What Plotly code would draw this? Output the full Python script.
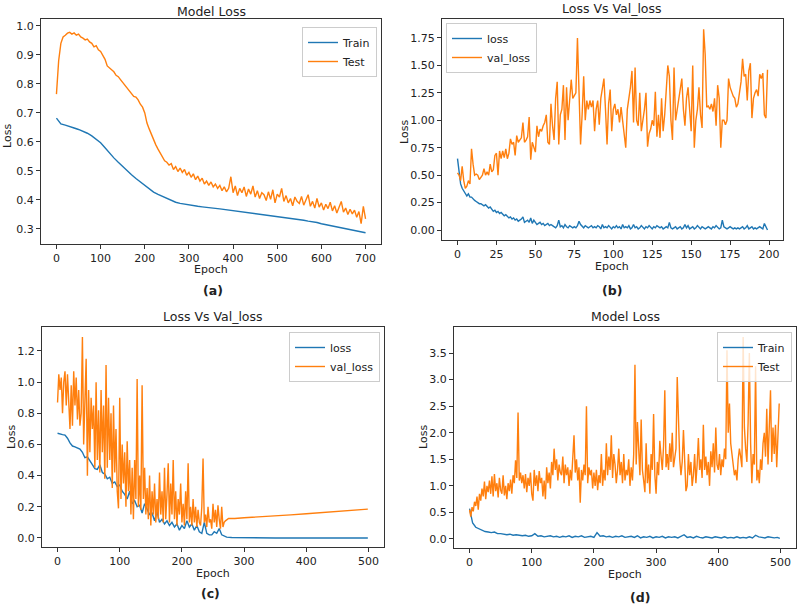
import plotly.graph_objs as go

W, H = 800, 607
BLUE = '#1f77b4'
ORANGE = '#ff7f0e'
FONT = 'DejaVu Sans'

# ---- (a) Model Loss ----
a_train_epoch = list(range(0, 701, 10))
a_train = [0.682, 0.662, 0.658, 0.654, 0.648, 0.643, 0.637, 0.630, 0.621, 0.610,
           0.597, 0.580, 0.562, 0.545, 0.530, 0.515, 0.500, 0.487, 0.474, 0.462,
           0.452, 0.440, 0.427, 0.419, 0.412, 0.405, 0.398, 0.392, 0.388, 0.385,
           0.383, 0.380, 0.378, 0.376, 0.375, 0.373, 0.371, 0.369, 0.367, 0.366,
           0.364, 0.362, 0.360, 0.358, 0.356, 0.354, 0.352, 0.350, 0.348, 0.346,
           0.342, 0.340, 0.338, 0.336, 0.334, 0.332, 0.330, 0.327, 0.325, 0.322,
           0.318, 0.315, 0.313, 0.310, 0.307, 0.304, 0.301, 0.298, 0.295, 0.291,
           0.287]
a_test_epoch = list(range(0, 701, 5))
a_test = [0.765, 0.880, 0.940, 0.962, 0.968, 0.975, 0.978, 0.972, 0.976, 0.968,
          0.972, 0.962, 0.958, 0.952, 0.955, 0.945, 0.940, 0.928, 0.932, 0.918,
          0.912, 0.900, 0.885, 0.862, 0.855, 0.848, 0.842, 0.830, 0.825, 0.815,
          0.805, 0.795, 0.788, 0.775, 0.765, 0.757, 0.755, 0.745, 0.730, 0.720,
          0.700, 0.665, 0.645, 0.625, 0.605, 0.590, 0.575, 0.560, 0.548, 0.535,
          0.530, 0.520, 0.525, 0.505, 0.515, 0.498, 0.510, 0.495, 0.505, 0.485,
          0.495, 0.478, 0.490, 0.470, 0.482, 0.465, 0.475, 0.455, 0.465, 0.450,
          0.462, 0.445, 0.455, 0.440, 0.450, 0.432, 0.445, 0.428, 0.440, 0.480,
          0.425, 0.448, 0.415, 0.440, 0.425, 0.445, 0.412, 0.438, 0.420, 0.448,
          0.410, 0.432, 0.405, 0.425, 0.418, 0.398, 0.428, 0.402, 0.435, 0.390,
          0.420, 0.410, 0.440, 0.395, 0.415, 0.390, 0.405, 0.380, 0.410, 0.395,
          0.388, 0.412, 0.382, 0.398, 0.418, 0.378, 0.395, 0.372, 0.405, 0.375,
          0.390, 0.365, 0.385, 0.370, 0.392, 0.362, 0.380, 0.355, 0.378, 0.395,
          0.358, 0.372, 0.350, 0.368, 0.352, 0.365, 0.340, 0.360, 0.318, 0.378,
          0.335]

# ---- (b) Loss Vs Val_loss ----
b_epoch = list(range(200))
b_loss = [0.65, 0.50, 0.42, 0.38, 0.36, 0.34, 0.31, 0.33, 0.30, 0.30,
          0.28, 0.27, 0.26, 0.25, 0.24, 0.24, 0.23, 0.22, 0.23, 0.21,
          0.20, 0.21, 0.19, 0.17, 0.18, 0.16, 0.17, 0.15, 0.16, 0.14,
          0.13, 0.14, 0.12, 0.11, 0.12, 0.10, 0.11, 0.09, 0.10, 0.08,
          0.09, 0.10, 0.12, 0.07, 0.08, 0.09, 0.07, 0.11, 0.06, 0.09,
          0.07, 0.05, 0.06, 0.07, 0.05, 0.06, 0.04, 0.05, 0.06, 0.04,
          0.05, 0.04, 0.03, 0.02, 0.04, 0.09, 0.03, 0.04, 0.02, 0.05,
          0.03, 0.02, 0.04, 0.03, 0.02, 0.03, 0.02, 0.04, 0.08, 0.05,
          0.03, 0.02, 0.04, 0.03, 0.02, 0.03, 0.04, 0.02, 0.03, 0.02,
          0.04, 0.03, 0.01, 0.05, 0.02, 0.03, 0.02, 0.04, 0.02, 0.01,
          0.03, 0.02, 0.04, 0.02, 0.03, 0.01, 0.05, 0.02, 0.03, 0.02,
          0.04, 0.01, 0.02, 0.05, 0.02, 0.03, 0.01, 0.02, 0.04, 0.02,
          0.01, 0.03, 0.02, 0.04, 0.02, 0.01, 0.03, 0.02, 0.04, 0.03,
          0.02, 0.03, 0.01, 0.02, 0.03, 0.02, 0.07, 0.02, 0.01, 0.02,
          0.03, 0.01, 0.02, 0.03, 0.01, 0.02, 0.05, 0.02, 0.04, 0.01,
          0.02, 0.03, 0.01, 0.02, 0.04, 0.02, 0.01, 0.03, 0.02, 0.01,
          0.02, 0.03, 0.02, 0.01, 0.03, 0.02, 0.04, 0.02, 0.01, 0.02,
          0.09, 0.03, 0.02, 0.01, 0.02, 0.03, 0.02, 0.01, 0.02, 0.01,
          0.02, 0.01, 0.02, 0.03, 0.01, 0.02, 0.04, 0.01, 0.02, 0.03,
          0.01, 0.02, 0.01, 0.02, 0.03, 0.02, 0.01, 0.06, 0.02, 0.00]
b_val_loss = [0.52, 0.50, 0.45, 0.58, 0.45, 0.38, 0.40, 0.45, 0.42, 0.74,
              0.60, 0.50, 0.51, 0.50, 0.46, 0.48, 0.50, 0.56, 0.50, 0.53,
              0.50, 0.60, 0.53, 0.55, 0.68, 0.70, 0.50, 0.72, 0.65, 0.72,
              0.66, 0.74, 0.65, 0.70, 0.83, 0.78, 0.80, 0.68, 0.86, 0.80,
              0.82, 0.84, 0.98, 0.80, 0.82, 0.85, 1.03, 0.64, 0.80, 0.75,
              0.71, 0.95, 0.85, 0.92, 0.90, 0.95, 0.98, 1.05, 0.80, 0.78,
              1.15, 0.95, 0.82, 1.20, 1.35, 0.78, 1.05, 1.10, 1.32, 0.82,
              1.30, 1.00, 1.20, 1.37, 1.20, 1.22, 1.25, 1.75, 1.20, 0.78,
              1.05, 1.40, 1.00, 1.18, 1.10, 1.18, 1.12, 1.18, 0.90, 1.10,
              1.18, 0.96, 1.20, 1.30, 1.38, 1.10, 0.78, 1.15, 1.28, 0.90,
              1.10, 1.15, 1.05, 1.10, 0.98, 1.12, 1.00, 0.90, 0.75, 1.10,
              1.20, 1.30, 1.45, 0.98, 1.48, 1.00, 0.95, 1.25, 0.90, 1.00,
              1.10, 1.25, 0.76, 0.88, 0.92, 1.00, 0.95, 1.26, 0.85, 1.05,
              0.84, 1.20, 0.90, 1.05, 1.30, 1.50, 1.40, 1.00, 0.82, 1.48,
              1.00, 1.10, 1.20, 1.30, 1.38, 1.10, 0.95, 1.20, 1.30, 1.10,
              0.90, 1.50, 0.75, 1.00, 1.10, 1.30, 1.05, 0.93, 1.83, 1.60,
              1.12, 1.13, 1.10, 1.15, 1.08, 1.20, 0.95, 1.32, 1.20, 0.75,
              1.00, 1.00, 0.96, 1.00, 1.38, 1.30, 1.25, 1.22, 1.20, 1.12,
              1.15, 1.25, 1.35, 1.56, 1.40, 1.42, 1.18, 1.45, 1.52, 1.02,
              1.20, 1.25, 1.28, 1.22, 1.42, 1.38, 1.43, 1.05, 1.02, 1.46]

# ---- (c) Loss Vs Val_loss ----
c_loss_epoch = list(range(0, 273, 4)) + [280, 300, 350, 400, 450, 499]
c_loss = [0.672, 0.665, 0.663, 0.660, 0.640, 0.610, 0.590, 0.585, 0.575, 0.570,
          0.550, 0.515, 0.520, 0.490, 0.470, 0.445, 0.440, 0.470, 0.420, 0.410,
          0.380, 0.390, 0.350, 0.360, 0.330, 0.340, 0.300, 0.280, 0.250, 0.300,
          0.220, 0.240, 0.200, 0.210, 0.160, 0.220, 0.180, 0.150, 0.160, 0.110,
          0.170, 0.100, 0.120, 0.090, 0.110, 0.080, 0.100, 0.070, 0.090, 0.050,
          0.080, 0.060, 0.110, 0.070, 0.090, 0.050, 0.080, 0.040, 0.030, 0.100,
          0.030, 0.020, 0.020, 0.040, 0.030, 0.060, 0.020, 0.010, 0.005,
          0.003, 0.001, 0.000, 0.000, 0.000, 0.000]
c_val_epoch = list(range(0, 271, 2)) + [275, 285, 300, 325, 350, 375, 400, 425, 450, 475, 499]
c_val_loss = [0.87, 1.05, 0.95, 1.03, 0.80, 1.00, 1.07, 0.85, 1.05, 0.90,
              0.70, 0.98, 0.72, 1.07, 0.85, 1.03, 0.76, 0.95, 0.72, 0.80,
              1.29, 0.60, 0.92, 1.15, 0.40, 0.95, 0.55, 0.90, 0.70, 0.85,
              0.45, 1.00, 0.50, 0.82, 0.42, 0.95, 0.55, 0.85, 0.38, 1.11,
              0.45, 0.90, 0.50, 0.80, 0.32, 0.85, 0.42, 0.70, 0.30, 0.19,
              0.90, 0.25, 0.60, 0.35, 0.55, 0.20, 0.62, 0.30, 0.50, 0.15,
              0.45, 0.12, 0.50, 0.25, 1.02, 0.20, 0.40, 0.18, 0.98, 0.25,
              0.45, 0.15, 0.32, 0.12, 0.40, 0.08, 0.30, 0.15, 0.35, 0.10,
              0.25, 0.12, 0.42, 0.15, 0.30, 0.10, 0.45, 0.12, 0.28, 0.48,
              0.10, 0.35, 0.15, 0.50, 0.12, 0.30, 0.08, 0.25, 0.15, 0.35,
              0.10, 0.22, 0.08, 0.30, 0.12, 0.48, 0.10, 0.20, 0.08, 0.25,
              0.10, 0.20, 0.07, 0.18, 0.10, 0.08, 0.20, 0.51, 0.10, 0.15,
              0.07, 0.20, 0.10, 0.12, 0.06, 0.22, 0.10, 0.18, 0.07, 0.21,
              0.12, 0.06, 0.20, 0.07, 0.10, 0.11,
              0.125, 0.125, 0.130, 0.135, 0.142, 0.148, 0.155, 0.162, 0.170, 0.178, 0.185]

# ---- (d) Model Loss ----
d_train_epoch = list(range(0, 500, 5)) + [499]
d_train = [0.57, 0.30, 0.22, 0.19, 0.16, 0.14, 0.13, 0.12, 0.13, 0.10,
           0.10, 0.09, 0.08, 0.09, 0.07, 0.08, 0.07, 0.06, 0.07, 0.05,
           0.06, 0.10, 0.05, 0.06, 0.04, 0.05, 0.06, 0.04, 0.05, 0.03,
           0.05, 0.04, 0.06, 0.03, 0.05, 0.04, 0.06, 0.03, 0.04, 0.05,
           0.03, 0.12, 0.05, 0.06, 0.04, 0.05, 0.03, 0.05, 0.04, 0.06,
           0.03, 0.04, 0.05, 0.03, 0.06, 0.02, 0.04, 0.03, 0.05, 0.02,
           0.04, 0.03, 0.05, 0.02, 0.04, 0.03, 0.04, 0.02, 0.05, 0.08,
           0.03, 0.04, 0.02, 0.05, 0.03, 0.02, 0.04, 0.03, 0.02, 0.04,
           0.03, 0.02, 0.04, 0.02, 0.03, 0.02, 0.04, 0.02, 0.03, 0.02,
           0.04, 0.02, 0.07, 0.04, 0.03, 0.02, 0.04, 0.03, 0.02, 0.03,
           0.01]
d_test_epoch = list(range(0, 500, 2))
d_test = [0.55, 0.42, 0.60, 0.52, 0.70, 0.62, 0.80, 0.55, 0.85, 0.72,
          0.95, 0.80, 1.08, 0.75, 1.00, 0.88, 1.10, 0.85, 1.18, 0.80,
          1.22, 0.90, 1.05, 0.78, 1.15, 0.92, 0.85, 1.20, 0.82, 1.00,
          0.75, 1.05, 0.90, 1.12, 0.85, 1.20, 1.05, 1.48, 1.15, 2.38,
          1.10, 1.25, 1.05, 1.20, 0.95, 1.22, 0.88, 1.15, 1.00, 1.25,
          0.85, 0.72, 1.30, 1.00, 1.20, 0.90, 1.28, 1.05, 1.15, 0.80,
          1.10, 0.75, 1.35, 1.05, 1.25, 0.95, 1.45, 1.20, 1.70, 1.30,
          1.50, 1.10, 1.40, 1.25, 1.20, 1.55, 1.05, 1.40, 1.20, 1.35,
          1.00, 1.30, 1.10, 1.45, 1.95, 1.25, 1.50, 1.10, 1.35, 0.68,
          1.30, 1.10, 1.40, 1.20, 2.50, 1.05, 1.35, 1.20, 1.30, 0.95,
          1.25, 1.00, 1.30, 0.92, 1.20, 1.05, 1.60, 1.00, 1.30, 1.10,
          1.80, 1.20, 1.55, 1.30, 1.95, 1.15, 1.60, 1.40, 1.05, 1.30,
          1.70, 1.20, 1.45, 1.05, 1.60, 1.10, 1.30, 1.20, 1.50, 1.00,
          1.35, 1.10, 1.60, 3.28, 1.40, 2.20, 1.50, 1.20, 2.25, 1.30,
          1.10, 0.88, 1.80, 1.05, 1.40, 0.85, 1.60, 1.30, 2.35, 1.20,
          0.85, 1.45, 1.20, 1.85, 1.55, 1.30, 1.75, 2.80, 1.35, 1.60,
          1.30, 1.80, 1.45, 2.00, 1.35, 1.55, 1.70, 3.05, 2.10, 1.50,
          1.20, 1.45, 2.05, 1.30, 0.90, 1.00, 1.60, 1.20, 1.45, 1.00,
          1.20, 1.60, 1.05, 1.40, 1.90, 1.30, 1.50, 1.15, 2.15, 1.30,
          1.55, 1.20, 1.45, 1.00, 1.65, 1.35, 1.80, 1.25, 2.10, 1.40,
          1.30, 1.60, 1.20, 1.50, 1.35, 1.70, 1.50, 3.55, 2.00, 2.55,
          1.80, 1.60, 1.40, 1.20, 1.30, 1.10, 1.50, 1.70, 1.55, 1.35,
          3.80, 2.10, 1.70, 1.45, 2.20, 3.50, 1.80, 1.05, 1.60, 1.40,
          3.25, 1.10, 1.30, 1.05, 1.50, 1.30, 1.80, 2.00, 1.55, 2.45,
          1.40, 2.20, 2.80, 1.45, 2.10, 1.60, 2.15, 1.35, 2.20, 2.55]

# ticks
a_yticks = [0.3, 0.4, 0.5, 0.6, 0.7, 0.8, 0.9, 1.0]
b_yticks = [0.0, 0.25, 0.5, 0.75, 1.0, 1.25, 1.5, 1.75]
c_yticks = [0.0, 0.2, 0.4, 0.6, 0.8, 1.0, 1.2]
d_yticks = [0.0, 0.5, 1.0, 1.5, 2.0, 2.5, 3.0, 3.5]


def px(x):
    return x / W


def py(y):
    return 1 - y / H


fig = go.Figure()

panels = [
    dict(xd=(41, 381), yd=(19, 244), xr=[-35, 735], yr=[0.248, 1.024],
         yt=a_yticks, yf='{:.1f}', xt=list(range(0, 701, 100))),
    dict(xd=(442, 783), yd=(19, 240), xr=[-9.95, 208.95], yr=[-0.091, 1.923],
         yt=b_yticks, yf='{:.2f}', xt=list(range(0, 201, 25))),
    dict(xd=(42, 384), yd=(327, 547), xr=[-25, 525], yr=[-0.058, 1.354],
         yt=c_yticks, yf='{:.1f}', xt=list(range(0, 501, 100))),
    dict(xd=(454, 796), yd=(327, 548), xr=[-25, 525], yr=[-0.17, 3.99],
         yt=d_yticks, yf='{:.1f}', xt=list(range(0, 501, 100))),
]

axis_common = dict(showgrid=False, zeroline=False, showline=True, mirror=True,
                   linecolor='#333333', linewidth=1, ticks='outside', ticklen=4,
                   tickcolor='#333333', tickfont=dict(family=FONT, size=11, color='#222222'))

for i, p in enumerate(panels, start=1):
    sfx = '' if i == 1 else str(i)
    fig.layout['xaxis' + sfx] = dict(
        domain=[px(p['xd'][0]), px(p['xd'][1])], range=p['xr'],
        anchor='y' + sfx, tickvals=p['xt'], **axis_common)
    fig.layout['yaxis' + sfx] = dict(
        domain=[py(p['yd'][1]), py(p['yd'][0])], range=p['yr'],
        anchor='x' + sfx, tickvals=p['yt'],
        ticktext=[p['yf'].format(v) for v in p['yt']], **axis_common)

line = dict(width=1.4)
fig.add_trace(go.Scatter(x=a_train_epoch, y=a_train, name='Train', mode='lines',
                         line=dict(color=BLUE, **line), xaxis='x', yaxis='y', legend='legend'))
fig.add_trace(go.Scatter(x=a_test_epoch, y=a_test, name='Test', mode='lines',
                         line=dict(color=ORANGE, **line), xaxis='x', yaxis='y', legend='legend'))
fig.add_trace(go.Scatter(x=b_epoch, y=b_loss, name='loss', mode='lines',
                         line=dict(color=BLUE, **line), xaxis='x2', yaxis='y2', legend='legend2'))
fig.add_trace(go.Scatter(x=b_epoch, y=b_val_loss, name='val_loss', mode='lines',
                         line=dict(color=ORANGE, **line), xaxis='x2', yaxis='y2', legend='legend2'))
fig.add_trace(go.Scatter(x=c_loss_epoch, y=c_loss, name='loss', mode='lines',
                         line=dict(color=BLUE, **line), xaxis='x3', yaxis='y3', legend='legend3'))
fig.add_trace(go.Scatter(x=c_val_epoch, y=c_val_loss, name='val_loss', mode='lines',
                         line=dict(color=ORANGE, **line), xaxis='x3', yaxis='y3', legend='legend3'))
fig.add_trace(go.Scatter(x=d_train_epoch, y=d_train, name='Train', mode='lines',
                         line=dict(color=BLUE, **line), xaxis='x4', yaxis='y4', legend='legend4'))
fig.add_trace(go.Scatter(x=d_test_epoch, y=d_test, name='Test', mode='lines',
                         line=dict(color=ORANGE, **line), xaxis='x4', yaxis='y4', legend='legend4'))

leg_common = dict(bgcolor='rgba(255,255,255,0.8)', bordercolor='#cccccc', borderwidth=1,
                  font=dict(family=FONT, size=11, color='#222222'),
                  tracegroupgap=0, itemwidth=30)
fig.update_layout(
    legend=dict(x=px(377), y=py(27), xanchor='right', yanchor='top', **leg_common),
    legend2=dict(x=px(446), y=py(23), xanchor='left', yanchor='top', **leg_common),
    legend3=dict(x=px(380), y=py(332), xanchor='right', yanchor='top', **leg_common),
    legend4=dict(x=px(792), y=py(332), xanchor='right', yanchor='top', **leg_common),
)

texts = [
    ('Model Loss', 211, 12, 12.5, False, 0),
    ('Loss Vs Val_loss', 612, 9, 12.5, False, 0),
    ('Loss Vs Val_loss', 213, 316, 12.5, False, 0),
    ('Model Loss', 625, 317, 12.5, False, 0),
    ('Epoch', 211, 269, 11, False, 0),
    ('Epoch', 612, 266, 11, False, 0),
    ('Epoch', 213, 573, 11, False, 0),
    ('Epoch', 625, 574, 11, False, 0),
    ('Loss', 8, 136, 11, False, -90),
    ('Loss', 404, 132, 11, False, -90),
    ('Loss', 11, 437, 11, False, -90),
    ('Loss', 423, 437, 11, False, -90),
    ('(a)', 213, 290, 12.5, True, 0),
    ('(b)', 612, 290, 12.5, True, 0),
    ('(c)', 210, 593, 12.5, True, 0),
    ('(d)', 640, 597, 12.5, True, 0),
]
for t, x, y, s, bold, ang in texts:
    fig.add_annotation(text='<b>%s</b>' % t if bold else t, x=px(x), y=py(y),
                       xref='paper', yref='paper', showarrow=False, textangle=ang,
                       xanchor='center', yanchor='middle',
                       font=dict(family=FONT, size=s, color='#222222'))

fig.update_layout(width=W, height=H, margin=dict(l=0, r=0, t=0, b=0),
                  plot_bgcolor='white', paper_bgcolor='white')

# drop the default page margin so the figure sits at the window origin
fig.write_html("out.html", config={'displayModeBar': False},
               post_script="document.body.style.margin='0px';")
